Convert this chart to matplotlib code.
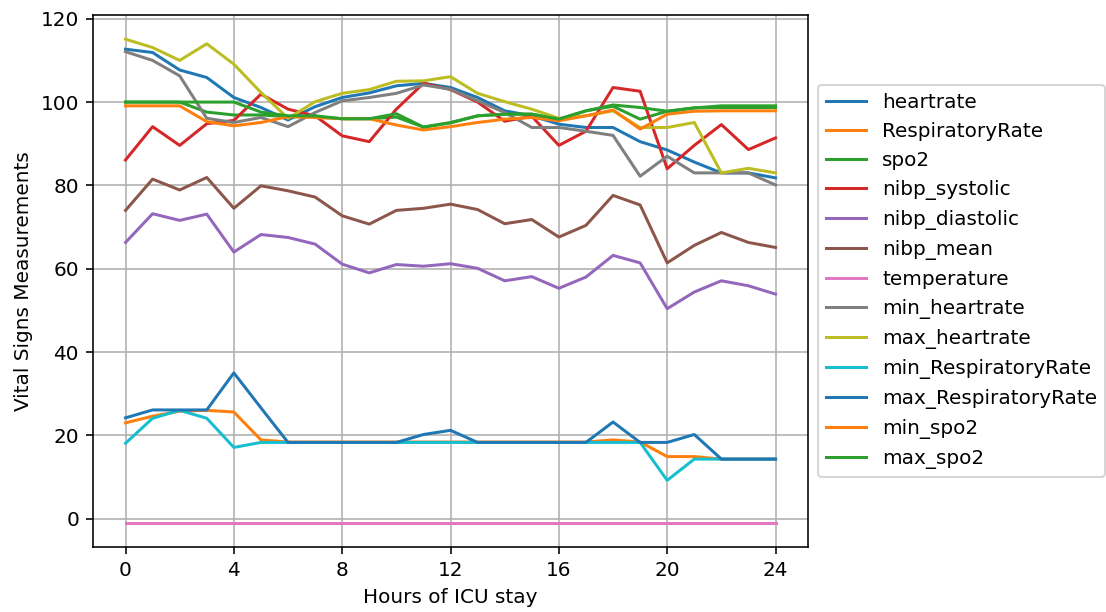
import matplotlib
matplotlib.use('Agg')
import matplotlib.pyplot as plt
import numpy as np

hours = np.arange(0, 25)

heartrate = [112.7, 111.9, 107.7, 105.9, 101.1, 98.7, 95.7, 98.9, 101.1, 102.2, 103.9, 104.5, 103.5,
             101.1, 97.9, 96.7, 94.7, 93.9, 93.9, 90.5, 88.5, 85.6, 83.0, 83.0, 81.8]
respiratory_rate = [23.0, 24.6, 25.8, 26.0, 25.6, 18.9, 18.4, 18.4, 18.4, 18.4, 18.4, 18.4, 18.4,
                    18.4, 18.4, 18.4, 18.4, 18.4, 18.9, 18.4, 14.9, 14.9, 14.3, 14.3, 14.3]
spo2 = [100.0, 100.0, 100.0, 97.6, 96.9, 96.9, 96.5, 96.5, 96.0, 96.0, 96.4, 94.0, 95.0,
        96.7, 97.1, 97.1, 95.9, 97.9, 99.0, 95.9, 97.8, 98.6, 98.7, 98.7, 98.7]
nibp_systolic = [86.1, 94.1, 89.6, 94.8, 95.6, 101.9, 98.3, 96.7, 91.9, 90.5, 98.3, 104.5, 103.0,
                 100.0, 95.4, 96.6, 89.6, 93.0, 103.5, 102.6, 84.0, 89.6, 94.6, 88.6, 91.4]
nibp_diastolic = [66.3, 73.2, 71.6, 73.1, 64.0, 68.2, 67.5, 65.9, 61.1, 59.0, 61.0, 60.6, 61.2,
                  60.1, 57.1, 58.1, 55.3, 58.0, 63.2, 61.4, 50.4, 54.4, 57.1, 55.9, 53.9]
nibp_mean = [74.0, 81.5, 78.9, 81.9, 74.5, 79.9, 78.7, 77.2, 72.7, 70.7, 74.0, 74.5, 75.5,
             74.2, 70.8, 71.8, 67.6, 70.4, 77.6, 75.3, 61.4, 65.6, 68.7, 66.3, 65.1]
temperature = [-1.0] * 25
min_heartrate = [112.1, 110.0, 106.3, 96.1, 95.1, 96.3, 94.1, 97.5, 100.3, 101.1, 102.1, 104.1, 103.1,
                 100.3, 97.5, 93.9, 93.9, 93.0, 92.0, 82.2, 87.0, 83.0, 83.0, 83.0, 80.1]
max_heartrate = [115.1, 113.1, 110.0, 114.0, 109.1, 102.3, 96.1, 100.1, 102.1, 103.0, 105.0, 105.1, 106.1,
                 102.1, 100.1, 98.3, 96.1, 96.7, 97.9, 93.9, 93.9, 95.1, 83.0, 84.1, 83.0]
min_respiratory_rate = [18.1, 24.1, 26.0, 24.1, 17.1, 18.3, 18.3, 18.3, 18.3, 18.3, 18.3, 18.3, 18.3,
                        18.3, 18.3, 18.3, 18.3, 18.3, 18.3, 18.3, 9.2, 14.3, 14.3, 14.3, 14.3]
max_respiratory_rate = [24.2, 26.1, 26.1, 26.1, 35.0, 26.6, 18.3, 18.3, 18.3, 18.3, 18.3, 20.2, 21.2,
                        18.3, 18.3, 18.3, 18.3, 18.3, 23.2, 18.3, 18.3, 20.2, 14.3, 14.3, 14.3]
min_spo2 = [99.1, 99.1, 99.1, 95.3, 94.3, 95.1, 96.5, 96.3, 96.0, 96.0, 94.5, 93.3, 94.1,
            95.1, 95.9, 96.3, 95.5, 96.7, 98.1, 93.5, 97.1, 97.8, 97.9, 97.9, 97.9]
max_spo2 = [100.0, 100.0, 100.0, 100.0, 100.0, 97.6, 96.7, 96.7, 96.0, 96.0, 97.2, 94.0, 95.1,
            96.7, 97.1, 97.1, 95.9, 97.9, 99.3, 98.7, 97.8, 98.6, 99.1, 99.1, 99.1]

series = [
    ('heartrate', heartrate),
    ('RespiratoryRate', respiratory_rate),
    ('spo2', spo2),
    ('nibp_systolic', nibp_systolic),
    ('nibp_diastolic', nibp_diastolic),
    ('nibp_mean', nibp_mean),
    ('temperature', temperature),
    ('min_heartrate', min_heartrate),
    ('max_heartrate', max_heartrate),
    ('min_RespiratoryRate', min_respiratory_rate),
    ('max_RespiratoryRate', max_respiratory_rate),
    ('min_spo2', min_spo2),
    ('max_spo2', max_spo2),
]

dpi = 144
fig = plt.figure(figsize=(1106 / dpi, 612 / dpi), dpi=dpi)
ax = fig.add_axes([0.0841, 0.1062, 0.6465, 0.8693])

for name, values in series:
    ax.plot(hours, values, label=name)

ax.set_xticks(np.arange(0, 25, 4))
ax.set_xlabel('Hours of ICU stay')
ax.set_ylabel('Vital Signs Measurements')
ax.grid(True)
ax.legend(loc='center left', bbox_to_anchor=(1, 0.5))

fig.savefig('out.png', dpi=dpi)
